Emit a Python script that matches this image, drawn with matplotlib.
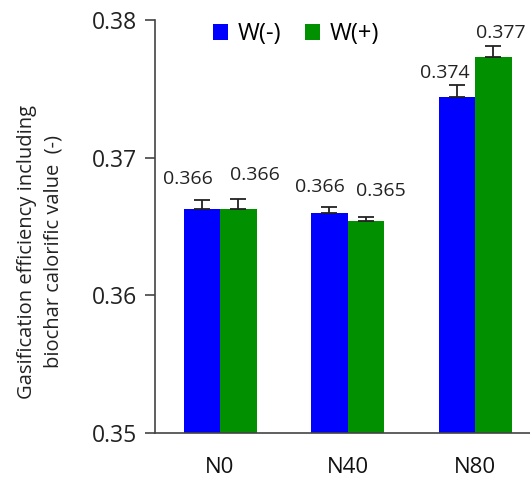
import matplotlib
matplotlib.use("Agg")
import matplotlib.pyplot as plt
import numpy as np

plt.rcParams['font.family'] = ['Open Sans', 'DejaVu Sans']

categories = ["N0", "N40", "N80"]
series_names = ["W(-)", "W(+)"]
w_minus = [0.3663, 0.3660, 0.3744]
w_plus = [0.3663, 0.3654, 0.3773]
err_minus = [0.0006, 0.0004, 0.0009]
err_plus = [0.0007, 0.0003, 0.0008]
labels_minus = ["0.366", "0.366", "0.374"]
labels_plus = ["0.366", "0.365", "0.377"]
yticks = [0.35, 0.36, 0.37, 0.38]
ytick_labels = ["0.35", "0.36", "0.37", "0.38"]

colors = ["#0000FF", "#009000"]

fig = plt.figure(figsize=(5.3, 4.82), dpi=100)
ax = fig.add_axes([155/530, 49/482, 375/530, 413/482])

x = np.arange(len(categories))
w = 0.286
ekw = dict(ecolor='#222222', elinewidth=1.3, capsize=6, capthick=1.3)
zeros = [0] * len(categories)
ax.bar(x - w/2, w_minus, w, color=colors[0], label=series_names[0],
       yerr=[zeros, err_minus], error_kw=ekw)
ax.bar(x + w/2, w_plus, w, color=colors[1], label=series_names[1],
       yerr=[zeros, err_plus], error_kw=ekw)

# label offsets in points (dx, dy)
off_minus = [(-10, 9), (-7, 8), (-9, 2)]
off_plus = [(12, 11), (11, 12), (5, 3)]
for i in range(len(categories)):
    ax.annotate(labels_minus[i], (x[i] - w/2, w_minus[i] + err_minus[i]),
                xytext=off_minus[i], textcoords='offset points',
                ha='center', va='bottom', fontsize=14, color='#222222')
    ax.annotate(labels_plus[i], (x[i] + w/2, w_plus[i] + err_plus[i]),
                xytext=off_plus[i], textcoords='offset points',
                ha='center', va='bottom', fontsize=14, color='#222222')

ax.set_ylim(0.35, 0.38)
ax.set_xlim(-0.51, 2.43)
ax.set_yticks(yticks)
ax.set_yticklabels(ytick_labels, fontsize=16.5, color='#222222')
ax.set_xticks(x)
ax.set_xticklabels(categories, fontsize=16, color='#111111')
ax.tick_params(axis='x', length=0, pad=17)
ax.tick_params(axis='y', direction='out', length=7, width=1.2, color='#444444', pad=6)
for s in ['top', 'right']:
    ax.spines[s].set_visible(False)
for s in ['left', 'bottom']:
    ax.spines[s].set_color('#444444')
    ax.spines[s].set_linewidth(1.2)

fig.text(40/530, 1 - 252/482, "Gasification efficiency including\nbiochar calorific value  (-)",
         rotation=90, ha='center', va='center', multialignment='center',
         fontsize=14.5, color='#222222', linespacing=1.45)

ax.legend(loc='upper left', bbox_to_anchor=(0.11, 1.035), ncol=2, frameon=False,
          fontsize=17, handlelength=0.65, handleheight=0.65, handletextpad=0.4,
          columnspacing=1.0, borderaxespad=0.3)

fig.savefig("out.png", dpi=100)
